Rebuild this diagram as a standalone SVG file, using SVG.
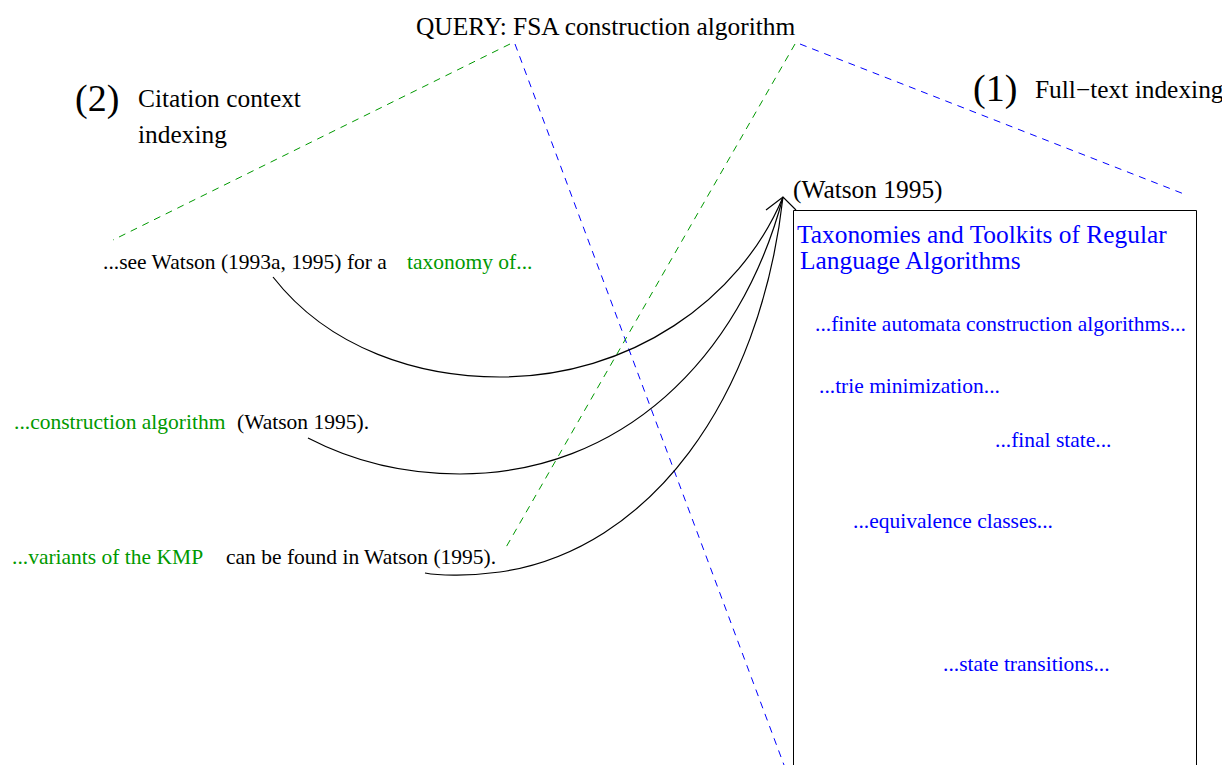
<svg xmlns="http://www.w3.org/2000/svg" width="1222" height="765" viewBox="0 0 1222 765">
<style>
text{font-family:"Liberation Serif","Times New Roman",serif;}
.big{font-size:25.4px;fill:#000;}
.num{font-size:38px;fill:#000;}
.s{font-size:21.5px;}
.k{fill:#000;}
.g{fill:#009900;}
.b{fill:#0000ff;}
.dg{stroke:#009900;stroke-width:1;stroke-dasharray:7,6;fill:none;}
.db{stroke:#0000ff;stroke-width:1;stroke-dasharray:7,6;fill:none;}
.cv{stroke:#000;stroke-width:1.2;fill:none;}
</style>
<rect width="1222" height="765" fill="#fff"/>
<g id="connectors">
<line class="dg" x1="510" y1="44" x2="113" y2="240"/>
<line class="db" x1="515" y1="44" x2="784" y2="765"/>
<line class="dg" x1="795" y1="44" x2="505" y2="549"/>
<line class="db" x1="800" y1="44" x2="1184" y2="194"/>
<path class="cv" d="M273,277 C330,350 420,377 500,377 C630,377 740,300 783,197"/>
<path class="cv" d="M308,438 C360,465 410,474 460,474 C620,474 740,360 783,197"/>
<path class="cv" d="M425,573 C440,576 470,576 500,572 C650,550 760,400 783,197"/>
<path class="cv" d="M766,210 L783,197 L796,210"/>
</g>
<g id="query"><text class="big" x="416" y="35">QUERY: FSA construction algorithm</text></g>
<g id="label2">
<text class="num" x="75" y="111">(2)</text>
<text class="big" x="138" y="107">Citation context</text>
<text class="big" x="138" y="143">indexing</text>
</g>
<g id="label1">
<text class="num" x="973" y="101">(1)</text>
<text class="big" x="1035" y="98">Full−text indexing</text>
</g>
<g id="watson"><text class="big" x="793" y="198">(Watson 1995)</text></g>
<g id="document">
<path d="M793.5,765 L793.5,210.5 L1196.5,210.5 L1196.5,765" fill="none" stroke="#000" stroke-width="1"/>
<text class="big b" x="797" y="243">Taxonomies and Toolkits of Regular</text>
<text class="big b" x="800" y="269">Language Algorithms</text>
<text class="s b" x="815" y="331">...finite automata construction algorithms...</text>
<text class="s b" x="819" y="393">...trie minimization...</text>
<text class="s b" x="995" y="447">...final state...</text>
<text class="s b" x="853" y="528">...equivalence classes...</text>
<text class="s b" x="943" y="671">...state transitions...</text>
</g>
<g id="cite1">
<text class="s k" x="103" y="269">...see Watson (1993a, 1995) for a</text>
<text class="s g" x="407" y="269">taxonomy of...</text>
</g>
<g id="cite2">
<text class="s g" x="14" y="429">...construction algorithm</text>
<text class="s k" x="237" y="429">(Watson 1995).</text>
</g>
<g id="cite3">
<text class="s g" x="12" y="564">...variants of the KMP</text>
<text class="s k" x="226" y="564">can be found in Watson (1995).</text>
</g>
</svg>
